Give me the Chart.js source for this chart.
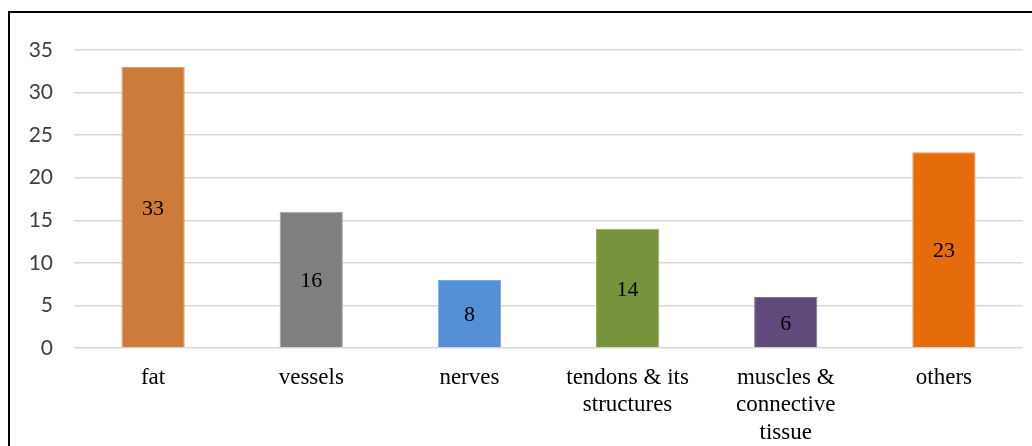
<!DOCTYPE html>
<html>
<head>
<meta charset="utf-8">
<script src="https://cdn.jsdelivr.net/npm/chart.js@4.4.0/dist/chart.umd.min.js"></script>
<style>
  html, body { margin: 0; padding: 0; background: #fff; overflow: hidden; }
  #wrap { position: relative; width: 1032px; height: 446px; }
  #frame {
    position: absolute; left: 8px; top: 11px; width: 1100px; height: 500px;
    border-left: 2px solid #000; border-top: 2px solid #000;
  }
  #myChart { position: absolute; left: 0; top: 0; }
</style>
</head>
<body>
<div id="wrap">
  <div id="frame"></div>
  <canvas id="myChart" width="1032" height="446"></canvas>
</div>
<script>
var labels = ['fat', 'vessels', 'nerves', ['tendons & its', 'structures'], ['muscles &', 'connective', 'tissue'], 'others'];
var counts = [33, 16, 8, 14, 6, 23];
var bar_colors = ['#CD7B3A', '#7F7F7F', '#5590D6', '#77933C', '#604A7B', '#E46C0A'];
var edge_colors = ['#E39A62', '#A6A6A6', '#7EACE0', '#97B064', '#8470A0', '#F29050'];
var y_ticks = [0, 5, 10, 15, 20, 25, 30, 35];

// value written in the middle of each bar
var mid_labels = {
    id: 'midLabels',
    afterDatasetsDraw: function (chart) {
        var ctx = chart.ctx;
        var meta = chart.getDatasetMeta(0);
        ctx.save();
        ctx.font = '22px "Liberation Serif", "Times New Roman", serif';
        ctx.fillStyle = '#000';
        ctx.textAlign = 'center';
        ctx.textBaseline = 'middle';
        meta.data.forEach(function (bar, i) {
            ctx.fillText(String(counts[i]), bar.x, (bar.y + bar.base) / 2 + 2);
        });
        ctx.restore();
    }
};

var ctx = document.getElementById('myChart');
var chart = new Chart(ctx, {
    type: 'bar',
    data: {
        labels: labels,
        datasets: [{
            data: counts,
            backgroundColor: bar_colors,
            borderColor: edge_colors,
            borderWidth: 1,
            barPercentage: 0.4,
            categoryPercentage: 1.0
        }]
    },
    options: {
        responsive: false,
        animation: false,
        layout: { padding: { left: 0, right: 9, top: 50, bottom: 0 } },
        plugins: { legend: { display: false }, tooltip: { enabled: false } },
        scales: {
            y: {
                min: 0,
                max: 35,
                afterFit: function (axis) { axis.width = 74; },
                afterBuildTicks: function (axis) {
                    axis.ticks = y_ticks.map(function (v) { return { value: v }; });
                },
                border: { display: false },
                grid: { color: '#D9D9D9', lineWidth: 1.5, drawTicks: false },
                ticks: {
                    padding: 21,
                    color: '#404040',
                    font: { family: 'Lato, "Liberation Sans", sans-serif', size: 21 }
                }
            },
            x: {
                afterFit: function (axis) { axis.height = 98; },
                border: { display: false },
                grid: { display: false },
                ticks: {
                    padding: 8,
                    color: '#000',
                    maxRotation: 0,
                    autoSkip: false,
                    font: { family: '"Liberation Serif", "Times New Roman", serif', size: 23, lineHeight: 1.2 }
                }
            }
        }
    },
    plugins: [mid_labels]
});
</script>
</body>
</html>
